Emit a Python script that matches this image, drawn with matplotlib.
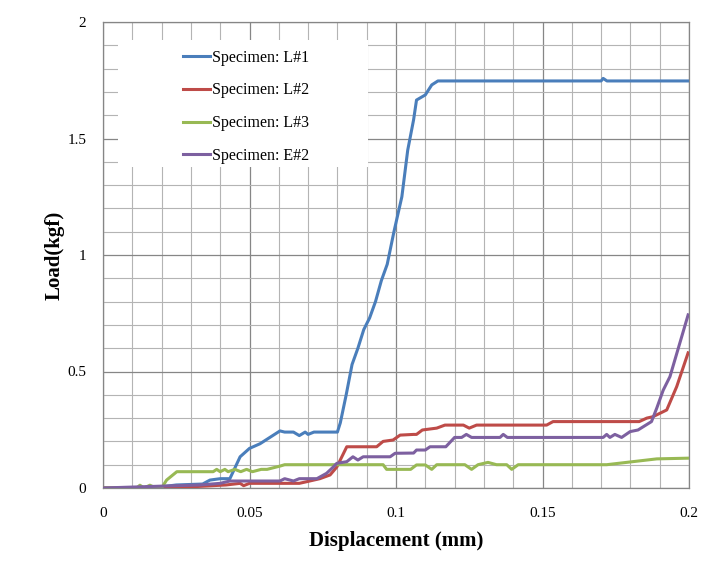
import matplotlib
matplotlib.use('Agg')
import matplotlib.pyplot as plt
from matplotlib.patches import Rectangle

plt.rcParams['font.family'] = ['Liberation Serif', 'DejaVu Serif']

# Specimen L#1
x1 = [0, 0.01, 0.02, 0.025, 0.034, 0.0365, 0.04, 0.0433, 0.0468, 0.05, 0.0536, 0.0604,
      0.062, 0.065, 0.067, 0.069, 0.07, 0.072, 0.08, 0.081, 0.083, 0.085, 0.087, 0.089,
      0.091, 0.093, 0.095, 0.097, 0.0993, 0.102, 0.104, 0.106, 0.107, 0.110, 0.1122,
      0.1143, 0.17, 0.1707, 0.172, 0.2]
y1 = [0, 0, 0.005, 0.013, 0.017, 0.034, 0.04, 0.04, 0.134, 0.17, 0.19, 0.245,
      0.24, 0.24, 0.225, 0.24, 0.23, 0.24, 0.24, 0.28, 0.40, 0.53, 0.60, 0.68,
      0.73, 0.80, 0.89, 0.96, 1.10, 1.25, 1.45, 1.58, 1.665, 1.687, 1.73,
      1.747, 1.747, 1.758, 1.747, 1.747]

# Specimen L#2
x2 = [0, 0.02, 0.03, 0.042, 0.0468, 0.048, 0.05, 0.067, 0.0695, 0.074, 0.0775, 0.0798,
      0.0832, 0.0934, 0.0956, 0.099, 0.1014, 0.106, 0.107, 0.109, 0.1139, 0.1167, 0.123,
      0.125, 0.1275, 0.1514, 0.1536, 0.183, 0.1856, 0.1877, 0.1924, 0.1958, 0.1997]
y2 = [0, 0, 0.005, 0.013, 0.02, 0.01, 0.02, 0.02, 0.027, 0.04, 0.056, 0.09,
      0.177, 0.177, 0.2, 0.206, 0.227, 0.23, 0.23, 0.249, 0.257, 0.27, 0.27,
      0.257, 0.27, 0.27, 0.285, 0.285, 0.30, 0.306, 0.335, 0.435, 0.58]

# Specimen L#3
x3 = [0, 0.0115, 0.0126, 0.014, 0.016, 0.018, 0.020, 0.0217, 0.0252, 0.0376, 0.0388,
      0.040, 0.0416, 0.0427, 0.045, 0.047, 0.049, 0.051, 0.054, 0.056, 0.0604, 0.062,
      0.0956, 0.0968, 0.105, 0.107, 0.110, 0.1122, 0.1139, 0.1235, 0.1258, 0.128,
      0.1314, 0.1343, 0.1378, 0.1395, 0.1417, 0.1719, 0.189, 0.1997]
y3 = [0, 0, 0.012, 0, 0.012, 0, 0, 0.034, 0.07, 0.07, 0.08,
      0.07, 0.08, 0.07, 0.08, 0.07, 0.08, 0.07, 0.08, 0.08, 0.094, 0.1,
      0.1, 0.08, 0.08, 0.099, 0.099, 0.08, 0.1, 0.1, 0.08, 0.1,
      0.11, 0.1, 0.1, 0.08, 0.1, 0.1, 0.125, 0.128]

# Specimen E#2
x4 = [0, 0.02, 0.033, 0.04, 0.0433, 0.0604, 0.062, 0.065, 0.067, 0.073, 0.0763, 0.0785,
      0.0798, 0.0832, 0.0853, 0.087, 0.0888, 0.098, 0.0997, 0.106, 0.107, 0.110,
      0.1116, 0.117, 0.120, 0.1224, 0.124, 0.1258, 0.1355, 0.1366, 0.138, 0.1707,
      0.1719, 0.173, 0.1747, 0.177, 0.1799, 0.1826, 0.1872, 0.189, 0.1912, 0.1935,
      0.1997]
y4 = [0, 0.008, 0.013, 0.02, 0.03, 0.03, 0.04, 0.03, 0.04, 0.04, 0.063, 0.089,
      0.106, 0.113, 0.134, 0.12, 0.134, 0.134, 0.149, 0.15, 0.163, 0.163,
      0.177, 0.177, 0.217, 0.217, 0.23, 0.217, 0.217, 0.23, 0.217, 0.217,
      0.23, 0.217, 0.23, 0.217, 0.242, 0.249, 0.285, 0.343, 0.42, 0.478,
      0.743]

labels = ['Specimen: L#1', 'Specimen: L#2', 'Specimen: L#3', 'Specimen: E#2']
colors = ['#4A7EBB', '#BE4B48', '#98B954', '#7D60A0']

xticks = [0, 0.05, 0.1, 0.15, 0.2]
xticklabels = ['0', '0.05', '0.1', '0.15', '0.2']
yticks = [0, 0.5, 1, 1.5, 2]
yticklabels = ['0', '0.5', '1', '1.5', '2']

W, H = 726, 581
L, B, PW, PH = 103, 93, 586, 466
TOP = H - B  # pixel row of y=0

fig = plt.figure(figsize=(W / 100, H / 100), dpi=100)
ax = fig.add_axes([L / W, B / H, PW / W, PH / H])

for xs, ys, lab, c in zip([x1, x2, x3, x4], [y1, y2, y3, y4], labels, colors):
    ax.plot(xs, ys, color=c, lw=2.2, label=lab, solid_joinstyle='round', zorder=3)

ax.set_xlim(0, 0.2)
ax.set_ylim(0, 2)
ax.set_xticks(xticks)
ax.set_xticklabels(xticklabels)
ax.set_xticks([i / 100 for i in range(21)], minor=True)
ax.set_yticks(yticks)
ax.set_yticklabels(yticklabels)
ax.set_yticks([i / 10 for i in range(21)], minor=True)
ax.grid(which='major', color='#868686', lw=0.9)
ax.grid(which='minor', color='#b4b4b4', lw=0.8)
ax.set_axisbelow(True)
ax.tick_params(which='both', length=0, labelsize=11)
ax.tick_params(axis='x', pad=14)
ax.tick_params(axis='y', pad=12)
for s in ax.spines.values():
    s.set_color('#868686')
    s.set_linewidth(0.9)

ax.set_xlabel('Displacement (mm)', fontsize=15, fontweight='bold')
ax.set_ylabel('Load(kgf)', fontsize=15, fontweight='bold')
ax.xaxis.set_label_coords((396 - L) / PW, -(531 - TOP) / PH)
ax.yaxis.set_label_coords((65 - L) / PW, (TOP - 255) / PH)

# white legend area
ax.add_patch(Rectangle(((118 - L) / PW, (TOP - 167) / PH), 250 / PW, 127 / PH,
                       transform=ax.transAxes, facecolor='white', edgecolor='none',
                       zorder=2.5))
leg = ax.legend(loc='upper left', bbox_to_anchor=((173 - L) / PW, (TOP - 40) / PH),
                fontsize=11.5, frameon=False, handlelength=1.7, handletextpad=0.15,
                labelspacing=1.05, borderpad=0.6, borderaxespad=0)
leg.set_zorder(4)

fig.savefig('out.png', dpi=100)
